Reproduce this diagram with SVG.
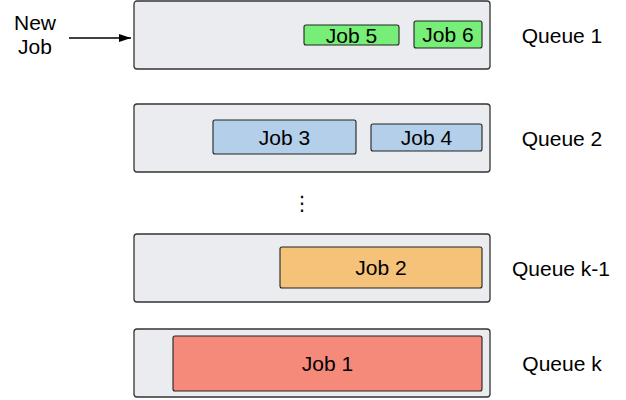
<svg xmlns="http://www.w3.org/2000/svg" width="626" height="400" viewBox="0 0 626 400">
  <style>
    text { font-family: "Liberation Sans", Arial, sans-serif; font-size: 21px; fill: #000; }
    .mid { text-anchor: middle; }
    .queue { fill: #EBECF0; stroke: #333; stroke-width: 1.3; }
    .job { stroke: #222; stroke-width: 1.1; }
    .green { fill: #77EE77; }
    .blue { fill: #B3CFEA; }
    .orange { fill: #F5C27A; }
    .red { fill: #F58A7A; }
  </style>
  <defs>
    <marker id="arrow" markerWidth="12" markerHeight="8" refX="12" refY="4" orient="auto" markerUnits="userSpaceOnUse">
      <path d="M0,0 L12,4 L0,8 Z" fill="#000"/>
    </marker>
  </defs>

  <!-- incoming job label -->
  <g id="new-job">
    <text class="mid" x="35" y="30">New</text>
    <text class="mid" x="35" y="54">Job</text>
  </g>

  <!-- connectors -->
  <g id="connectors">
    <line x1="69" y1="38" x2="131" y2="38" stroke="#000" stroke-width="1.3" marker-end="url(#arrow)"/>
  </g>

  <!-- queue 1 -->
  <g id="queue1">
    <rect class="queue" x="134" y="1" width="356" height="68" rx="3"/>
    <text class="mid" x="562" y="42.5">Queue 1</text>
  </g>
  <g id="job5">
    <rect class="job green" x="304" y="25" width="95" height="20" rx="2"/>
    <text class="mid" x="351.5" y="42.5">Job 5</text>
  </g>
  <g id="job6">
    <rect class="job green" x="414" y="21" width="68" height="27" rx="2"/>
    <text class="mid" x="448" y="42">Job 6</text>
  </g>

  <!-- queue 2 -->
  <g id="queue2">
    <rect class="queue" x="134" y="104" width="356" height="68" rx="3"/>
    <text class="mid" x="562" y="145.5">Queue 2</text>
  </g>
  <g id="job3">
    <rect class="job blue" x="213" y="120" width="143" height="34" rx="2"/>
    <text class="mid" x="284.5" y="144.5">Job 3</text>
  </g>
  <g id="job4">
    <rect class="job blue" x="371" y="124" width="111" height="27" rx="2"/>
    <text class="mid" x="426.5" y="145">Job 4</text>
  </g>

  <!-- ellipsis between queues -->
  <text class="mid" x="302" y="210" style="font-family: 'DejaVu Sans', sans-serif; font-size: 20px;">⋮</text>

  <!-- queue k-1 -->
  <g id="queue-k-1">
    <rect class="queue" x="134" y="234" width="356" height="68" rx="3"/>
    <text class="mid" x="561" y="275.5">Queue k-1</text>
  </g>
  <g id="job2">
    <rect class="job orange" x="280" y="247" width="202" height="41" rx="2"/>
    <text class="mid" x="381" y="275">Job 2</text>
  </g>

  <!-- queue k -->
  <g id="queue-k">
    <rect class="queue" x="134" y="329" width="356" height="68" rx="3"/>
    <text class="mid" x="562" y="370.5">Queue k</text>
  </g>
  <g id="job1">
    <rect class="job red" x="173" y="336" width="309" height="55" rx="2"/>
    <text class="mid" x="327.5" y="371">Job 1</text>
  </g>
</svg>
